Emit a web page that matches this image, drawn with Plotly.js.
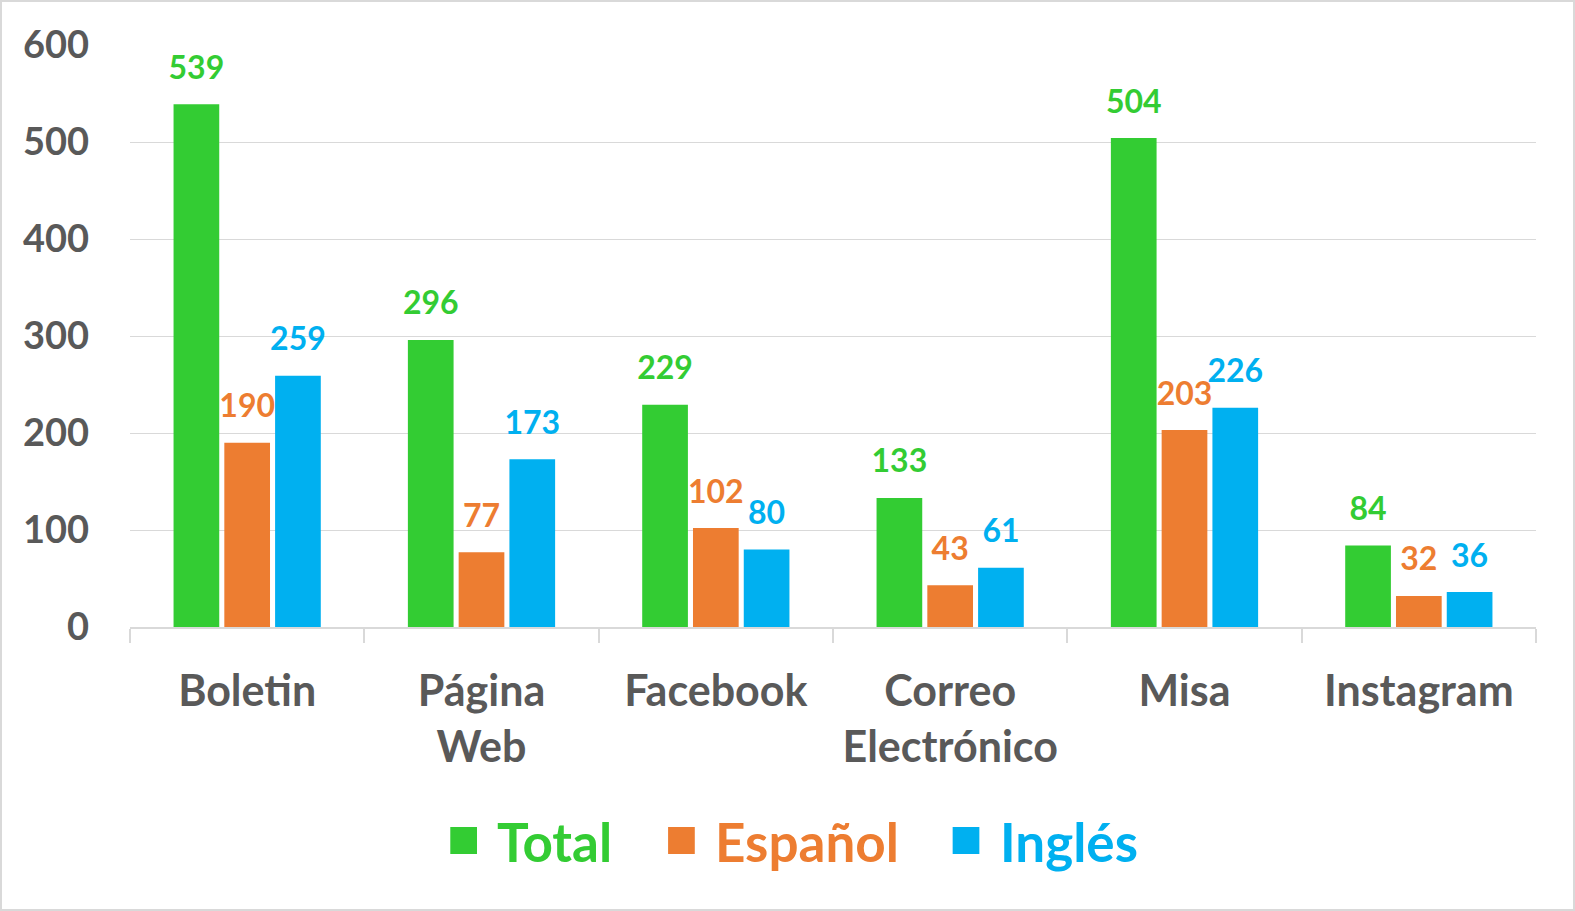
<!DOCTYPE html>
<html>
<head>
<meta charset="utf-8">
<script src="https://cdn.plot.ly/plotly-3.0.1.min.js"></script>
<style>
html, body { margin: 0; padding: 0; background: #fff; }
#chart { width: 1575px; height: 911px; box-sizing: border-box; border: 2px solid #d9d9d9; }
</style>
</head>
<body>
<div id="chart"></div>
<script>
// categories and series
let categories = ["Boletin", "Página<br>Web", "Facebook", "Correo<br>Electrónico", "Misa", "Instagram"];
let seriesNames = ["Total", "Español", "Inglés"];
let totalValues = [539, 296, 229, 133, 504, 84];
let espanolValues = [190, 77, 102, 43, 203, 32];
let inglesValues = [259, 173, 80, 61, 226, 36];

let green = "#33cc33";
let orange = "#ed7d31";
let blue = "#00b0f0";
let grey = "#595959";
let font = "Lato, 'Open Sans', sans-serif";

// label sits on a tall line with a small blank line under it, so it floats above the bar like Excel
function labelText(v){
  return '<span style="font-size:32px">' + v + '</span><br>\u00a0';
}

function series(name, values, color){
  return {
    type: "bar",
    name: name,
    x: categories,
    y: values,
    marker: {color: color},
    text: values.map(labelText),
    textposition: "outside",
    constraintext: "none",
    textfont: {family: font, size: 15, color: color, weight: "bold"},
    cliponaxis: false,
    hoverinfo: "x+y",
    showlegend: false
  };
}

let colors = [green, orange, blue];
let data = [
  series(seriesNames[0], totalValues, green),
  series(seriesNames[1], espanolValues, orange),
  series(seriesNames[2], inglesValues, blue)
];

// legend drawn by hand so the swatches can be as big as in the original
let legendX = [0.2278, 0.3827, 0.5851];
let shapes = [];
let annotations = [];
seriesNames.forEach(function(n, i){
  shapes.push({
    type: "rect", xref: "paper", yref: "paper",
    x0: legendX[i], x1: legendX[i] + 0.019,
    y0: -0.3436, y1: -0.39,
    fillcolor: colors[i], line: {width: 0}
  });
  annotations.push({
    xref: "paper", yref: "paper",
    x: legendX[i] + 0.032, y: -0.369,
    xanchor: "left", yanchor: "middle",
    text: n, showarrow: false,
    font: {family: font, size: 53, color: colors[i], weight: "bold"}
  });
});

let layout = {
  width: 1571,
  height: 907,
  paper_bgcolor: "#fff",
  plot_bgcolor: "#fff",
  margin: {l: 128, r: 37, t: 43, b: 282},
  font: {family: font, color: grey, weight: "bold"},
  barmode: "group",
  bargap: 0.35,
  bargroupgap: 0.1,
  showlegend: false,
  shapes: shapes,
  annotations: annotations,
  xaxis: {
    type: "category",
    tickson: "boundaries",
    ticks: "outside",
    ticklen: 14,
    tickwidth: 2,
    tickcolor: "#d9d9d9",
    showline: true,
    linecolor: "#d9d9d9",
    linewidth: 2,
    ticklabelstandoff: 25,
    tickfont: {family: font, size: 43, color: grey, weight: "bold"},
    automargin: false
  },
  yaxis: {
    range: [0, 600],
    dtick: 100,
    showgrid: true,
    gridcolor: "#d9d9d9",
    gridwidth: 1,
    zeroline: false,
    showline: false,
    ticks: "",
    ticklabelstandoff: 40,
    tickfont: {family: font, size: 38, color: grey, weight: "bold"},
    automargin: false
  }
};

Plotly.newPlot("chart", data, layout, {displayModeBar: false});
</script>
</body>
</html>
